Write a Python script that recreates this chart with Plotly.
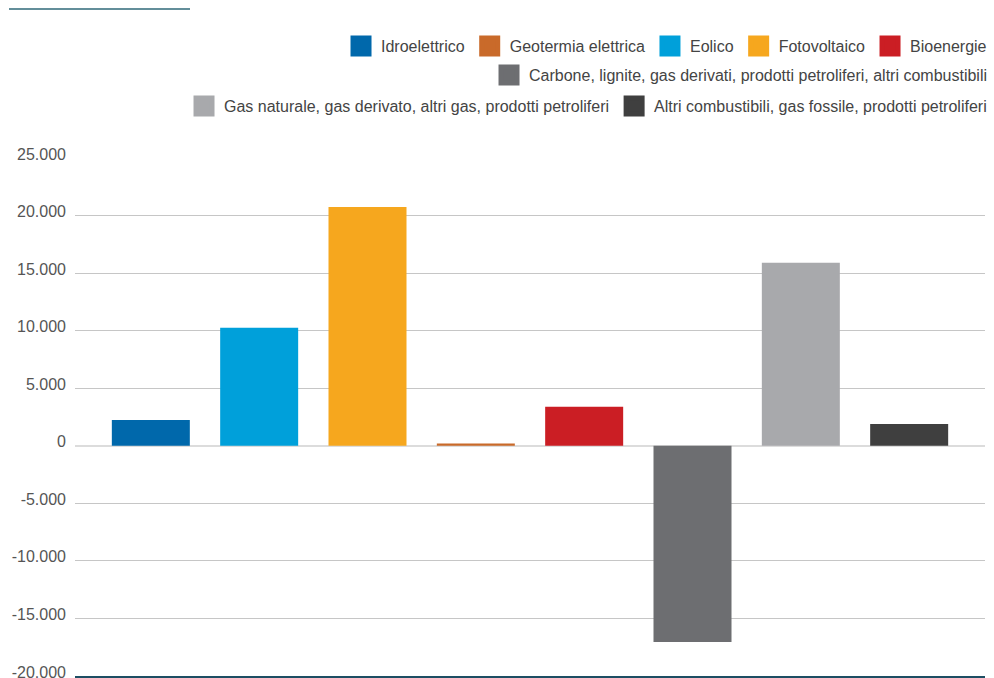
import plotly.graph_objects as go

categories = ["Idroelettrico", "Eolico", "Fotovoltaico", "Geotermia elettrica", "Bioenergie",
              "Carbone, lignite, gas derivati, prodotti petroliferi, altri combustibili",
              "Gas naturale, gas derivato, altri gas, prodotti petroliferi",
              "Altri combustibili, gas fossile, prodotti petroliferi"]
values = [2250, 10250, 20750, 200, 3400, -17050, 15900, 1900]
colors = ["#0068ab", "#00a0da", "#f6a71e", "#c96a2a", "#cb1e24", "#6d6e71", "#a8a9ac", "#3f3f3f"]
legend_rank = [1, 3, 4, 2, 5, 6, 7, 8]
legend_group = ["legend", "legend", "legend", "legend", "legend", "legend2", "legend3", "legend3"]
tick_vals = [-20000, -15000, -10000, -5000, 0, 5000, 10000, 15000, 20000, 25000]
tick_text = ["-20.000", "-15.000", "-10.000", "-5.000", "0", "5.000", "10.000", "15.000", "20.000", "25.000"]

fig = go.Figure()
for c, v, col in zip(categories, values, colors):
    fig.add_trace(go.Bar(x=[c], y=[v], name=c, marker=dict(color=col, line=dict(width=0)),
                         showlegend=False))
# legend entries (large square swatches)
for c, col, r, lg in zip(categories, colors, legend_rank, legend_group):
    fig.add_trace(go.Scatter(x=[None], y=[None], mode="markers", name=c,
                             marker=dict(symbol="square", size=16, color=col,
                                         line=dict(color=col, width=5)),
                             legendrank=r, legend=lg, hoverinfo="skip"))

font = dict(family="Liberation Sans, Arial, sans-serif", size=16, color="#444444")
leg_common = dict(orientation="h", xref="container", yref="container", x=0.998, xanchor="right",
                  yanchor="middle", font=font, bgcolor="rgba(0,0,0,0)", traceorder="normal",
                  itemsizing="trace", itemclick=False, itemdoubleclick=False)

fig.update_layout(
    width=994, height=678,
    margin=dict(l=75, r=9, t=158, b=2, autoexpand=False),
    paper_bgcolor="white", plot_bgcolor="white",
    barmode="relative", bargap=0.28,
    font=font,
    separators=",.",
    legend=dict(y=1 - 46 / 678, **leg_common),
    legend2=dict(y=1 - 75 / 678, **leg_common),
    legend3=dict(y=1 - 106 / 678, **leg_common),
    xaxis=dict(showticklabels=False, showgrid=False, range=[-0.7, 7.7], showline=True,
               linecolor="#1d4e63", linewidth=2, ticks="", fixedrange=True, automargin=False),
    yaxis=dict(range=[-20000, 25000], tickvals=tick_vals, ticktext=tick_text,
               showgrid=True, gridcolor="#c6c6c6", gridwidth=1,
               zeroline=True, zerolinecolor="#dcdcdc", zerolinewidth=2,
               tickfont=dict(family="Liberation Sans, Arial, sans-serif", size=16, color="#555555"),
               ticklabelstandoff=8, ticklabelshift=-4, ticklabeloverflow="allow",
               fixedrange=True, automargin=False),
    shapes=[dict(type="line", xref="paper", yref="paper", x0=(9 - 75) / 910, x1=(190 - 75) / 910,
                 y0=1 + 149 / 518, y1=1 + 149 / 518, line=dict(color="#2f6878", width=1.5))],
)

fig.write_html("out.html")
